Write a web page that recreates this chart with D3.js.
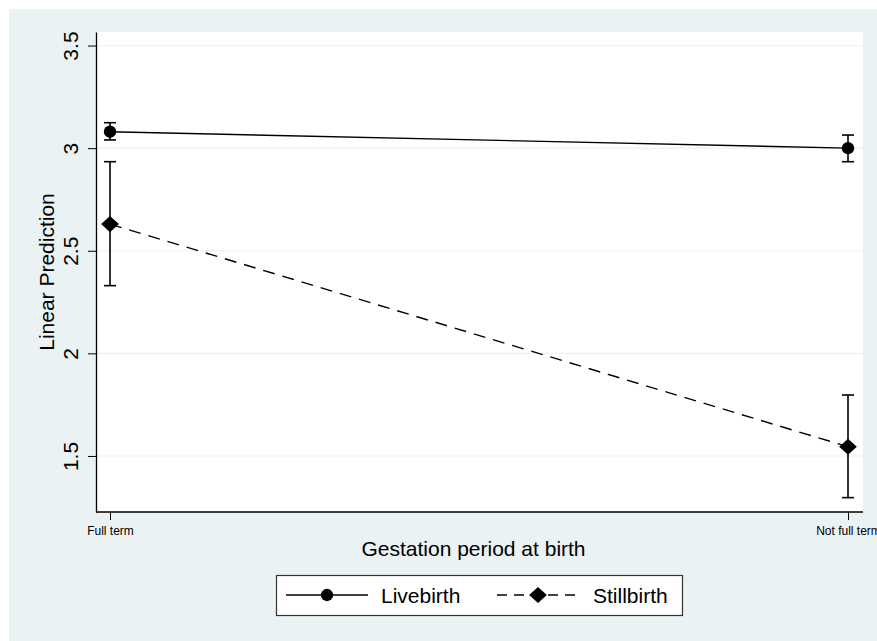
<!DOCTYPE html>
<html>
<head>
<meta charset="utf-8">
<script src="https://cdn.jsdelivr.net/npm/d3@7"></script>
<style>
  body { margin: 0; background: #fff; overflow: hidden; }
  text { font-family: Arial, "Liberation Sans", sans-serif; fill: #000; }
</style>
</head>
<body>
<div id="chart"></div>
<script>
// data
const categories = ["Full term", "Not full term"];
const seriesNames = ["Livebirth", "Stillbirth"];
const liveMean = [3.08, 3.0];
const liveLo = [3.04, 2.934];
const liveHi = [3.124, 3.064];
const stillMean = [2.63, 1.545];
const stillLo = [2.33, 1.297];
const stillHi = [2.934, 1.797];
const yTicks = [1.5, 2, 2.5, 3, 3.5];

const W = 877, H = 641;
const margin = {top: 32, right: 14, bottom: 129, left: 96};
const width = W - margin.left - margin.right;
const height = H - margin.top - margin.bottom;

const svg = d3.select("#chart").append("svg")
  .attr("width", W).attr("height", H);

// outer background
svg.append("rect")
  .attr("x", 9).attr("y", 9)
  .attr("width", W - 9).attr("height", H - 9)
  .attr("fill", "#eaf2f3");

const g = svg.append("g")
  .attr("transform", `translate(${margin.left},${margin.top})`);

g.append("rect")
  .attr("width", width).attr("height", height)
  .attr("fill", "#fff");

// scales
const x = d3.scalePoint().domain(categories).range([14, 752]);
const y = d3.scaleLinear().domain([1.227, 3.566]).range([height, 0]);

// gridlines
g.append("g").selectAll("line")
  .data(yTicks)
  .join("line")
  .attr("x1", 0).attr("x2", width)
  .attr("y1", d => y(d)).attr("y2", d => y(d))
  .attr("stroke", "#eaf2f3").attr("stroke-width", 1.2);

// axes
const yAxis = g.append("g")
  .call(d3.axisLeft(y).tickValues(yTicks).tickFormat(d => d).tickSize(8).tickSizeOuter(0));
yAxis.select(".domain").attr("stroke", "#000").attr("stroke-width", 1.3);
yAxis.selectAll(".tick line").attr("stroke", "#000");
yAxis.selectAll(".tick text")
  .attr("font-size", 21)
  .attr("x", 0).attr("dy", 0)
  .attr("text-anchor", "middle")
  .attr("transform", "translate(-18,0) rotate(-90)");

const xAxis = g.append("g")
  .attr("transform", `translate(0,${height})`)
  .call(d3.axisBottom(x).tickSize(8).tickSizeOuter(0).tickPadding(6));
xAxis.select(".domain").attr("d", `M0,0H${width}`).attr("stroke", "#000").attr("stroke-width", 1.3);
xAxis.selectAll(".tick line").attr("stroke", "#000");
xAxis.selectAll(".tick text").attr("font-size", 12);

// axis titles
svg.append("text")
  .attr("x", margin.left + width / 2 - 6).attr("y", 556)
  .attr("text-anchor", "middle").attr("font-size", 21)
  .text("Gestation period at birth");

svg.append("text")
  .attr("transform", `translate(54,${margin.top + height / 2}) rotate(-90)`)
  .attr("text-anchor", "middle").attr("font-size", 21)
  .text("Linear Prediction");

// series
const diamond = {
  draw(ctx, size) {
    const r = Math.sqrt(size / 2);
    ctx.moveTo(0, -r); ctx.lineTo(r * 1.1, 0); ctx.lineTo(0, r); ctx.lineTo(-r * 1.1, 0); ctx.closePath();
  }
};
const series = [
  {name: seriesNames[0], mean: liveMean, lo: liveLo, hi: liveHi, dash: null, shape: d3.symbolCircle, size: 120},
  {name: seriesNames[1], mean: stillMean, lo: stillLo, hi: stillHi, dash: "12,8", shape: diamond, size: 130}
];

const line = d3.line().x((d, i) => x(categories[i])).y(d => y(d));

series.forEach(s => {
  // CI bars
  const ci = g.append("g");
  categories.forEach((c, i) => {
    ci.append("line")
      .attr("x1", x(c)).attr("x2", x(c))
      .attr("y1", y(s.lo[i])).attr("y2", y(s.hi[i]))
      .attr("stroke", "#000").attr("stroke-width", 1.6);
    [s.lo[i], s.hi[i]].forEach(v => {
      ci.append("line")
        .attr("x1", x(c) - 6).attr("x2", x(c) + 6)
        .attr("y1", y(v)).attr("y2", y(v))
        .attr("stroke", "#000").attr("stroke-width", 1.6);
    });
  });

  g.append("path")
    .attr("d", line(s.mean))
    .attr("fill", "none").attr("stroke", "#000").attr("stroke-width", 1.4)
    .attr("stroke-dasharray", s.dash);

  g.append("g").selectAll("path")
    .data(s.mean)
    .join("path")
    .attr("transform", (d, i) => `translate(${x(categories[i])},${y(d)})`)
    .attr("d", d3.symbol().type(s.shape).size(s.size))
    .attr("fill", "#000");
});

// legend
const lg = svg.append("g");
lg.append("rect")
  .attr("x", 276.5).attr("y", 575.5).attr("width", 406).attr("height", 40)
  .attr("fill", "#fff").attr("stroke", "#333").attr("stroke-width", 1.2);

const legendItems = [
  {s: series[0], x0: 286, tx: 381},
  {s: series[1], x0: 497, tx: 593}
];
legendItems.forEach(it => {
  lg.append("line")
    .attr("x1", it.x0).attr("x2", it.x0 + 82)
    .attr("y1", 595).attr("y2", 595)
    .attr("stroke", "#000").attr("stroke-width", 1.4)
    .attr("stroke-dasharray", it.s.dash ? "10,7" : null);
  lg.append("path")
    .attr("transform", `translate(${it.x0 + 41},595)`)
    .attr("d", d3.symbol().type(it.s.shape).size(it.s.size))
    .attr("fill", "#000");
  lg.append("text")
    .attr("x", it.tx).attr("y", 603)
    .attr("font-size", 21)
    .text(it.s.name);
});
</script>
</body>
</html>
